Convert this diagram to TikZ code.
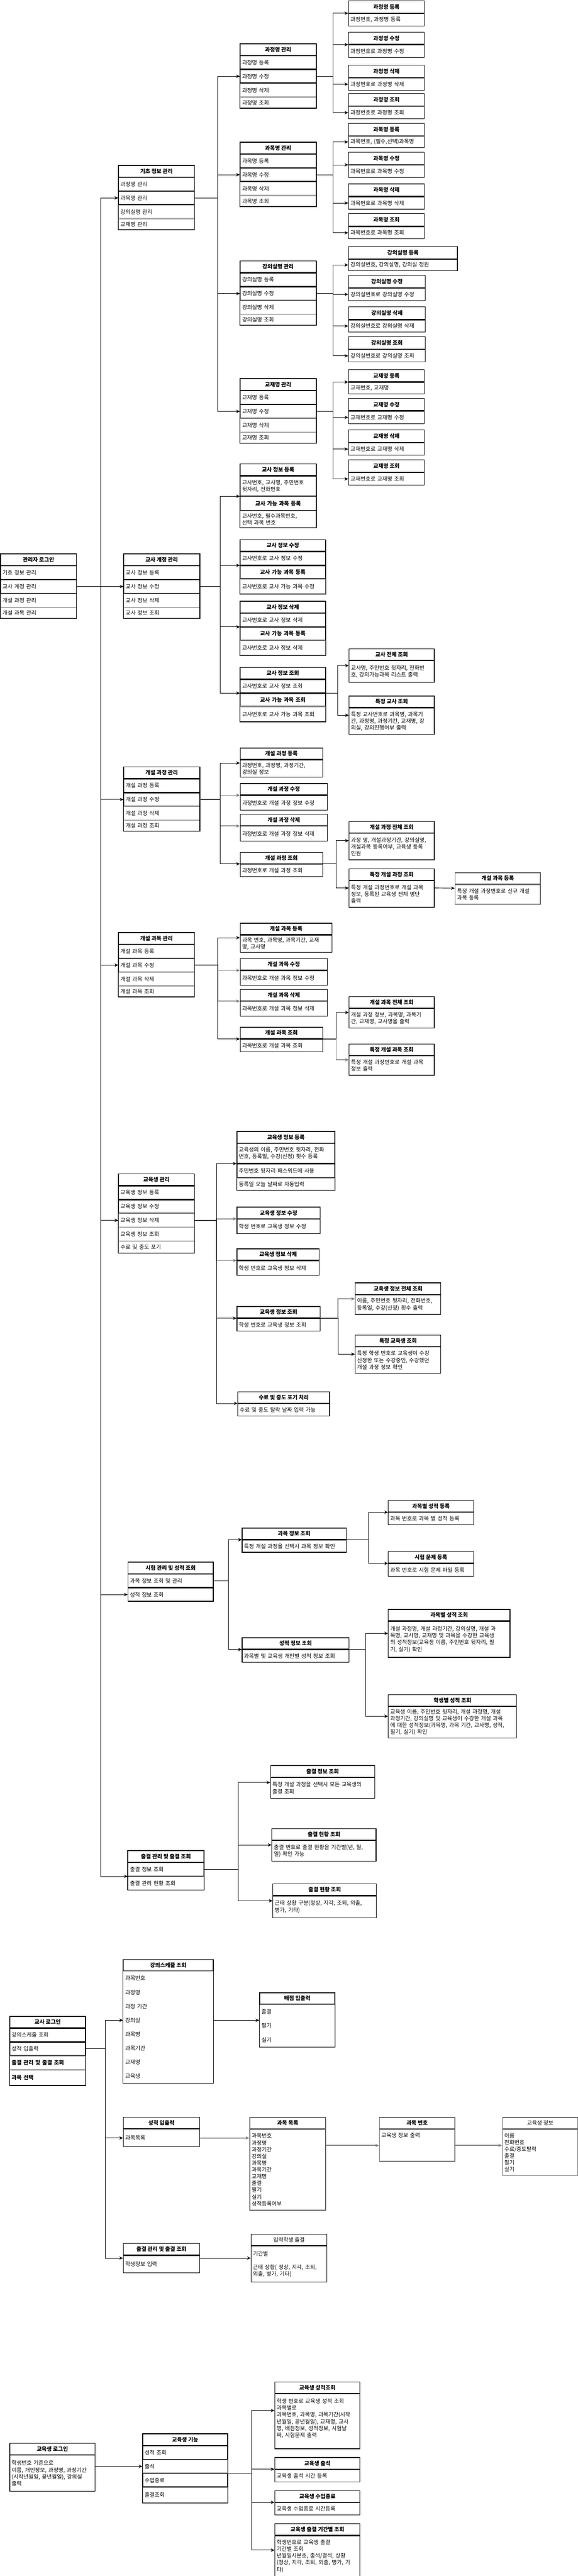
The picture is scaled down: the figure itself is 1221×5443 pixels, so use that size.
\documentclass[tikz,border=0pt]{standalone}
\usepackage{fontspec}
\setmainfont{Noto Sans CJK KR}
\usetikzlibrary{positioning,arrows.meta}
\newcommand{\dfont}{\fontsize{11.5}{14.3}\selectfont}
\tikzset{
  hdbox/.style={draw, line width=1.3pt, anchor=north west, minimum height=24pt, inner sep=0pt, font=\dfont\bfseries},
  hdnbox/.style={hdbox, font=\dfont},
  leafhd/.style={hdbox, minimum height=26pt},
  rowbox/.style={draw, line width=1.3pt, minimum height=28pt, inner xsep=4pt, inner ysep=1pt, align=left, font=\dfont},
  lrowbox/.style={rowbox, draw=black!35},
  itembox/.style={rowbox, draw=none, minimum height=28.25pt},
  subbox/.style={rowbox, align=center, font=\dfont\bfseries},
  wd/.code={\pgfmathsetmacro\rowtw{#1-8}\tikzset{minimum width=#1pt, text width=\rowtw pt}},
  gbox/.style={draw=black!60, line width=1.8pt},
  boxframe/.style={draw, line width=1.3pt},
  arr/.style={-{Stealth[length=8pt,width=7pt]}, line width=1pt},
  garr/.style={arr, draw=black!50, line width=2pt}
}
\begin{document}
\begin{tikzpicture}[x=1pt, y=-1pt]
\useasboundingbox (0,0) rectangle (1221,5443);
\fill[white] (0,0) rectangle (1221,5443);

\node[hdbox, minimum width=160pt] (al) at (0.7,1170) {관리자 로그인};
\node[rowbox, wd=160, below=0pt of al] (al1) {기초 정보 관리};
\node[rowbox, wd=160, below=0pt of al1] (al2) {교사 계정 관리};
\node[lrowbox, wd=160, below=0pt of al2] (al3) {개설 과정 관리};
\node[lrowbox, wd=160, minimum height=22pt, below=0pt of al3] (al4) {개설 과목 관리};

\node[hdbox, minimum width=160pt] (gi) at (250,349) {기초 정보 관리};
\node[rowbox, wd=160, below=0pt of gi] (gi1) {과정명 관리};
\node[rowbox, wd=160, below=0pt of gi1] (gi2) {과목명 관리};
\node[lrowbox, wd=160, below=0pt of gi2] (gi3) {강의실명 관리};
\node[lrowbox, wd=160, minimum height=22pt, below=0pt of gi3] (gi4) {교재명 관리};

\node[hdbox, minimum width=160pt] (kj) at (507,92) {과정명 관리};
\node[rowbox, wd=160, below=0pt of kj] (kj1) {과정명 등록};
\node[rowbox, wd=160, below=0pt of kj1] (kj2) {과정명 수정};
\node[lrowbox, wd=160, below=0pt of kj2] (kj3) {과정명 삭제};
\node[lrowbox, wd=160, minimum height=22pt, below=0pt of kj3] (kj4) {과정명 조회};

\node[hdbox, minimum width=160pt] (km) at (507,300) {과목명 관리};
\node[rowbox, wd=160, below=0pt of km] (km1) {과목명 등록};
\node[rowbox, wd=160, below=0pt of km1] (km2) {과목명 수정};
\node[lrowbox, wd=160, below=0pt of km2] (km3) {과목명 삭제};
\node[lrowbox, wd=160, minimum height=22pt, below=0pt of km3] (km4) {과목명 조회};

\node[hdbox, minimum width=160pt] (kr) at (507,551) {강의실명 관리};
\node[rowbox, wd=160, below=0pt of kr] (kr1) {강의실명 등록};
\node[rowbox, wd=160, below=0pt of kr1] (kr2) {강의실명 수정};
\node[lrowbox, wd=160, below=0pt of kr2] (kr3) {강의실명 삭제};
\node[lrowbox, wd=160, minimum height=22pt, below=0pt of kr3] (kr4) {강의실명 조회};

\node[hdbox, minimum width=160pt] (kb) at (507,800) {교재명 관리};
\node[rowbox, wd=160, below=0pt of kb] (kb1) {교재명 등록};
\node[rowbox, wd=160, below=0pt of kb1] (kb2) {교재명 수정};
\node[lrowbox, wd=160, below=0pt of kb2] (kb3) {교재명 삭제};
\node[lrowbox, wd=160, minimum height=22pt, below=0pt of kb3] (kb4) {교재명 조회};

\node[leafhd, minimum width=160pt] (kjA) at (736,0.7) {과정명 등록};
\node[rowbox, wd=160, minimum height=26pt, below=0pt of kjA] (kjA1) {과정번호, 과정명 등록};
\node[leafhd, minimum width=160pt] (kjB) at (736,67) {과정명 수정};
\node[rowbox, wd=160, minimum height=26pt, below=0pt of kjB] (kjB1) {과정번호로 과정명 수정};
\node[leafhd, minimum width=160pt] (kjC) at (736,137) {과정명 삭제};
\node[rowbox, wd=160, minimum height=26pt, below=0pt of kjC] (kjC1) {과정번호로 과정명 삭제};
\node[leafhd, minimum width=160pt] (kjD) at (736,197) {과정명 조회};
\node[rowbox, wd=160, minimum height=26pt, below=0pt of kjD] (kjD1) {과정번호로 과정명 조회};

\node[leafhd, minimum width=160pt] (kmA) at (736,260) {과목명 등록};
\node[rowbox, wd=160, minimum height=24pt, below=0pt of kmA] (kmA1) {과목번호, (필수,선택)과목명};
\node[leafhd, minimum width=160pt] (kmB) at (736,321) {과목명 수정};
\node[rowbox, wd=160, minimum height=26pt, below=0pt of kmB] (kmB1) {과목번호로 과목명 수정};
\node[leafhd, minimum width=160pt] (kmC) at (736,388) {과목명 삭제};
\node[rowbox, wd=160, minimum height=26pt, below=0pt of kmC] (kmC1) {과목번호로 과목명 삭제};
\node[leafhd, minimum width=160pt] (kmD) at (736,451) {과목명 조회};
\node[rowbox, wd=160, minimum height=26pt, below=0pt of kmD] (kmD1) {과목번호로 과목명 조회};

\node[leafhd, minimum width=230pt] (krA) at (736,520) {강의실명 등록};
\node[rowbox, wd=230, minimum height=24pt, below=0pt of krA] (krA1) {강의실번호, 강의실명, 강의실 정원};
\node[leafhd, minimum width=162pt] (krB) at (736,581) {강의실명 수정};
\node[rowbox, wd=162, minimum height=26pt, below=0pt of krB] (krB1) {강의실번호로 강의실명 수정};
\node[leafhd, minimum width=162pt] (krC) at (736,648) {강의실명 삭제};
\node[rowbox, wd=162, minimum height=26pt, below=0pt of krC] (krC1) {강의실번호로 강의실명 삭제};
\node[leafhd, minimum width=162pt] (krD) at (736,711) {강의실명 조회};
\node[rowbox, wd=162, minimum height=26pt, below=0pt of krD] (krD1) {강의실번호로 강의실명 조회};

\node[leafhd, minimum width=160pt] (kbA) at (736,780) {교재명 등록};
\node[rowbox, wd=160, minimum height=24pt, below=0pt of kbA] (kbA1) {교재번호, 교재명};
\node[leafhd, minimum width=160pt] (kbB) at (736,841) {교재명 수정};
\node[rowbox, wd=160, minimum height=26pt, below=0pt of kbB] (kbB1) {교재번호로 교재명 수정};
\node[leafhd, minimum width=160pt] (kbC) at (736,908) {교재명 삭제};
\node[rowbox, wd=160, minimum height=26pt, below=0pt of kbC] (kbC1) {교재번호로 교재명 삭제};
\node[leafhd, minimum width=160pt] (kbD) at (736,971) {교재명 조회};
\node[rowbox, wd=160, minimum height=26pt, below=0pt of kbD] (kbD1) {교재번호로 교재명 조회};

\node[hdbox, minimum width=160pt] (ta) at (261,1170) {교사 계정 관리};
\node[rowbox, wd=160, below=0pt of ta] (ta1) {교사 정보 등록};
\node[rowbox, wd=160, below=0pt of ta1] (ta2) {교사 정보 수정};
\node[lrowbox, wd=160, below=0pt of ta2] (ta3) {교사 정보 삭제};
\node[lrowbox, wd=160, minimum height=22pt, below=0pt of ta3] (ta4) {교사 정보 조회};

\node[hdbox, minimum width=160pt] (ti) at (507,980) {교사 정보 등록};
\node[rowbox, wd=160, minimum height=42pt, below=0pt of ti] (ti1) {교사번호, 교사명, 주민번호\\뒷자리, 전화번호};
\node[subbox, wd=160, minimum height=29pt, below=0pt of ti1] (ti2) {교사 가능 과목 등록};
\node[lrowbox, wd=160, minimum height=35pt, below=0pt of ti2] (ti3) {교사번호, 필수과목번호,\\선택 과목 번호};

\node[hdbox, minimum width=180pt] (tu) at (507,1140) {교사 정보 수정};
\node[rowbox, wd=180, below=0pt of tu] (tu1) {교사번호로 교사 정보 수정};
\node[subbox, wd=180, minimum height=27pt, below=0pt of tu1] (tu2) {교사 가능 과목 등록};
\node[lrowbox, wd=180, minimum height=31pt, below=0pt of tu2] (tu3) {교사번호로 교사 가능 과목 수정};

\node[hdbox, minimum width=180pt] (td) at (507,1270) {교사 정보 삭제};
\node[rowbox, wd=180, below=0pt of td] (td1) {교사번호로 교사 정보 삭제};
\node[subbox, wd=180, minimum height=27pt, below=0pt of td1] (td2) {교사 가능 과목 등록};
\node[lrowbox, wd=180, minimum height=31pt, below=0pt of td2] (td3) {교사번호로 교사 정보 삭제};

\node[hdbox, minimum width=180pt] (tq) at (507,1410) {교사 정보 조회};
\node[rowbox, wd=180, below=0pt of tq] (tq1) {교사번호로 교사 정보 조회};
\node[subbox, wd=180, minimum height=27pt, below=0pt of tq1] (tq2) {교사 가능 과목 조회};
\node[lrowbox, wd=180, minimum height=31pt, below=0pt of tq2] (tq3) {교사번호로 교사 가능 과목 조회};

\node[hdbox, minimum width=180pt] (tw) at (737,1370) {교사 전체 조회};
\node[rowbox, wd=180, minimum height=46pt, below=0pt of tw] (tw1) {교사명, 주민번호 뒷자리, 전화번\\호, 강의가능과목 리스트 출력};
\node[hdbox, minimum width=180pt] (ts) at (737,1470) {특정 교사 조회};
\node[rowbox, wd=180, minimum height=56pt, below=0pt of ts] (ts1) {특정 교사번호로 과목명, 과목기\\간, 과정명, 과정기간, 교재명, 강\\의실, 강의진행여부 출력};

\node[hdbox, minimum width=160pt] (pc) at (261,1620) {개설 과정 관리};
\node[rowbox, wd=160, below=0pt of pc] (pc1) {개설 과정 등록};
\node[rowbox, wd=160, below=0pt of pc1] (pc2) {개설 과정 수정};
\node[lrowbox, wd=160, below=0pt of pc2] (pc3) {개설 과정 삭제};
\node[lrowbox, wd=160, minimum height=22pt, below=0pt of pc3] (pc4) {개설 과정 조회};

\node[hdbox, minimum width=174pt] (pa) at (507,1580) {개설 과정 등록};
\node[rowbox, wd=174, minimum height=36pt, below=0pt of pa] (pa1) {과정번호, 과정명, 과정기간,\\강의실 정보};
\node[hdbox, minimum width=184pt] (pb) at (507,1655) {개설 과정 수정};
\node[rowbox, wd=184, minimum height=31pt, below=0pt of pb] (pb1) {과정번호로 개설 과정 정보 수정};
\node[hdbox, minimum width=184pt] (pd) at (507,1720) {개설 과정 삭제};
\node[rowbox, wd=184, minimum height=31pt, below=0pt of pd] (pd1) {과정번호로 개설 과정 정보 삭제};
\node[hdbox, minimum width=174pt] (pq) at (507,1800) {개설 과정 조회};
\node[rowbox, wd=174, minimum height=26pt, below=0pt of pq] (pq1) {과정번호로 개설 과정 조회};

\node[hdbox, minimum width=180pt] (pw) at (737,1735) {개설 과정 전체 조회};
\node[rowbox, wd=180, minimum height=56pt, below=0pt of pw] (pw1) {과정 명, 개설과정기간, 강의실명,\\개설과목 등록여부, 교육생 등록\\인원};
\node[hdbox, minimum width=180pt] (ps) at (737,1835) {특정 개설 과정 조회};
\node[rowbox, wd=180, minimum height=56pt, below=0pt of ps] (ps1) {특정 개설 과정번호로 개설 과목\\정보, 등록된 교육생 전체 명단\\출력};
\node[hdbox, gbox, minimum width=180pt] (pn) at (961,1843) {개설 과목 등록};
\node[rowbox, gbox, wd=180, minimum height=41pt, below=0pt of pn] (pn1) {특정 개설 과정번호로 신규 개설\\과목 등록};

\node[hdbox, minimum width=160pt] (sc) at (250,1970) {개설 과목 관리};
\node[rowbox, wd=160, below=0pt of sc] (sc1) {개설 과목 등록};
\node[rowbox, wd=160, below=0pt of sc1] (sc2) {개설 과목 수정};
\node[lrowbox, wd=160, below=0pt of sc2] (sc3) {개설 과목 삭제};
\node[lrowbox, wd=160, minimum height=22pt, below=0pt of sc3] (sc4) {개설 과목 조회};

\node[hdbox, minimum width=194pt] (sa) at (507,1950) {개설 과목 등록};
\node[rowbox, wd=194, minimum height=36pt, below=0pt of sa] (sa1) {과목 번호, 과목명, 과목기간, 교재\\명, 교사명};
\node[hdbox, minimum width=184pt] (sb) at (507,2025) {개설 과목 수정};
\node[rowbox, wd=184, minimum height=31pt, below=0pt of sb] (sb1) {과목번호로 개설 과목 정보 수정};
\node[hdbox, minimum width=184pt] (sd) at (507,2090) {개설 과목 삭제};
\node[rowbox, wd=184, minimum height=31pt, below=0pt of sd] (sd1) {과목번호로 개설 과목 정보 삭제};
\node[hdbox, minimum width=174pt] (sq) at (507,2170) {개설 과목 조회};
\node[rowbox, wd=174, minimum height=26pt, below=0pt of sq] (sq1) {과목번호로 개설 과목 조회};

\node[hdbox, minimum width=180pt] (sw) at (737,2105) {개설 과목 전체 조회};
\node[rowbox, wd=180, minimum height=41pt, below=0pt of sw] (sw1) {개설 과정 정보, 과목명, 과목기\\간, 교재명, 교사명을 출력};
\node[hdbox, minimum width=180pt] (ss) at (737,2205) {특정 개설 과목 조회};
\node[rowbox, wd=180, minimum height=41pt, below=0pt of ss] (ss1) {특정 개설 과정번호로 개설 과목\\정보 출력};

\node[hdbox, minimum width=160pt] (sm) at (250,2480) {교육생 관리};
\node[rowbox, wd=160, below=0pt of sm] (sm1) {교육생 정보 등록};
\node[rowbox, wd=160, below=0pt of sm1] (sm2) {교육생 정보 수정};
\node[lrowbox, wd=160, below=0pt of sm2] (sm3) {교육생 정보 삭제};
\node[lrowbox, wd=160, below=0pt of sm3] (sm4) {교육생 정보 조회};
\node[lrowbox, wd=160, minimum height=24pt, below=0pt of sm4] (sm5) {수료 및 중도 포기};

\node[hdbox, minimum width=207pt] (ea) at (500,2390) {교육생 정보 등록};
\node[rowbox, wd=207, minimum height=42pt, below=0pt of ea] (ea1) {교육생의 이름, 주민번호 뒷자리, 전화\\번호, 등록일, 수강(신청) 횟수 등록};
\node[rowbox, wd=207, minimum height=29pt, below=0pt of ea1] (ea2) {주민번호 뒷자리 패스워드에 사용};
\node[lrowbox, wd=207, minimum height=25pt, below=0pt of ea2] (ea3) {등록일 오늘 날짜로 자동입력};
\node[hdbox, minimum width=176pt] (eb) at (500,2550) {교육생 정보 수정};
\node[rowbox, wd=176, minimum height=31pt, below=0pt of eb] (eb1) {학생 번호로 교육생 정보 수정};
\node[hdbox, minimum width=174pt] (ed) at (500,2638) {교육생 정보 삭제};
\node[rowbox, wd=174, minimum height=31pt, below=0pt of ed] (ed1) {학생 번호로 교육생 정보 삭제};
\node[hdbox, minimum width=176pt] (eq) at (500,2760) {교육생 정보 조회};
\node[rowbox, wd=176, minimum height=26pt, below=0pt of eq] (eq1) {학생 번호로 교육생 정보 조회};
\node[hdbox, minimum width=194pt] (ef) at (502,2940) {수료 및 중도 포기 처리};
\node[rowbox, wd=194, minimum height=26pt, below=0pt of ef] (ef1) {수료 및 중도 탈락 날짜 입력 가능};

\node[hdbox, minimum width=181pt] (ew) at (750,2710) {교육생 정보 전체 조회};
\node[rowbox, wd=181, minimum height=41pt, below=0pt of ew] (ew1) {이름, 주민번호 뒷자리, 전화번호,\\등록일, 수강(신청) 횟수 출력};
\node[hdbox, minimum width=181pt] (es) at (750,2820) {특정 교육생 조회};
\node[rowbox, wd=181, minimum height=56pt, below=0pt of es] (es1) {특정 학생 번호로 교육생이 수강\\신청한 또는 수강중인, 수강했던\\개설 과정 정보 확인};

\node[hdbox, minimum width=180pt] (ex) at (270,3300) {시험 관리 및 성적 조회};
\node[rowbox, wd=180, below=0pt of ex] (ex1) {과목 정보 조회 및 관리};
\node[rowbox, wd=180, below=0pt of ex1] (ex2) {성적 정보 조회};

\node[hdbox, minimum width=220pt] (xa) at (511,3228) {과목 정보 조회};
\node[rowbox, wd=220, minimum height=26pt, below=0pt of xa] (xa1) {특정 개설 과정을 선택시 과목 정보 확인};
\node[hdbox, minimum width=180pt] (xr) at (820,3170) {과목별 성적 등록};
\node[rowbox, wd=180, minimum height=26pt, below=0pt of xr] (xr1) {과목 번호로 과목 별 성적 등록};
\node[hdbox, minimum width=180pt] (xp) at (820,3278) {시험 문제 등록};
\node[rowbox, wd=180, minimum height=27pt, below=0pt of xp] (xp1) {과목 번호로 시험 문제 파일 등록};
\node[hdbox, minimum width=226pt] (xg) at (511,3460) {성적 정보 조회};
\node[rowbox, wd=226, minimum height=26pt, below=0pt of xg] (xg1) {과목별 및 교육생 개인별 성적 정보 조회};
\node[hdbox, minimum width=257pt] (xs) at (820,3400) {과목별 성적 조회};
\node[rowbox, wd=257, minimum height=76pt, below=0pt of xs] (xs1) {개설 과정명, 개설 과정기간, 강의실명, 개설 과\\목명, 교사명, 교재명 및 과목을 수강한 교육생\\의 성적정보(교육생 이름, 주민번호 뒷자리, 필\\기, 실기) 확인};
\node[hdbox, minimum width=271pt] (xh) at (820,3580) {학생별 성적 조회};
\node[rowbox, wd=271, minimum height=66pt, below=0pt of xh] (xh1) {교육생 이름, 주민번호 뒷자리, 개설 과정명, 개설\\과정기간, 강의실명 및 교육생이 수강한 개설 과목\\에 대한 성적정보(과목명, 과목 기간, 교사명, 성적,\\필기, 실기) 확인};

\node[hdbox, minimum width=160pt] (at) at (270,3910) {출결 관리 및 출결 조회};
\node[rowbox, wd=160, below=0pt of at] (at1) {출결 정보 조회};
\node[lrowbox, wd=160, below=0pt of at1] (at2) {출결 관리 현황 조회};

\node[hdbox, minimum width=220pt] (aa) at (571,3730) {출결 정보 조회};
\node[rowbox, wd=220, minimum height=44pt, below=0pt of aa] (aa1) {특정 개설 과정을 선택시 모든 교육생의\\출결 조회};
\node[hdbox, minimum width=220pt] (ab) at (574,3863) {출결 현황 조회};
\node[rowbox, wd=220, minimum height=44pt, below=0pt of ab] (ab1) {출결 번호로 출결 현황을 기간별(년, 월,\\일) 확인 가능};
\node[hdbox, minimum width=219pt] (ac) at (576,3980) {출결 현황 조회};
\node[rowbox, wd=219, minimum height=46pt, below=0pt of ac] (ac1) {근태 상황 구분(정상, 지각, 조퇴, 외출,\\병가, 기타)};

\node[hdbox, minimum width=160pt] (tl) at (20,4260) {교사 로그인};
\node[rowbox, wd=160, below=0pt of tl] (tl1) {강의스케줄 조회};
\node[rowbox, wd=160, below=0pt of tl1] (tl2) {성적 입출력};
\node[lrowbox, wd=160, font=\dfont\bfseries, below=0pt of tl2] (tl3) {출결 관리 및 출결 조회};
\node[lrowbox, wd=160, font=\dfont\bfseries, minimum height=32pt, below=0pt of tl3] (tl4) {과목 선택};

\node[hdbox, minimum width=190pt] (sch) at (260,4140) {강의스케줄 조회};
\node[itembox, wd=190, below=0pt of sch] (sch1) {과목번호};
\node[itembox, wd=190, below=0pt of sch1] (sch2) {과정명};
\node[itembox, wd=190, below=0pt of sch2] (sch3) {과정 기간};
\node[itembox, wd=190, below=0pt of sch3] (sch4) {강의실};
\node[itembox, wd=190, below=0pt of sch4] (sch5) {과목명};
\node[itembox, wd=190, below=0pt of sch5] (sch6) {과목기간};
\node[itembox, wd=190, below=0pt of sch6] (sch7) {교재명};
\node[itembox, wd=190, below=0pt of sch7] (sch8) {교육생};

\node[hdbox, minimum width=159pt] (bp) at (548,4210) {배점 입출력};
\node[itembox, wd=159, minimum height=28.7pt, below=0pt of bp] (bp1) {출결};
\node[itembox, wd=159, minimum height=28.7pt, below=0pt of bp1] (bp2) {필기};
\node[itembox, wd=159, minimum height=28.7pt, below=0pt of bp2] (bp3) {실기};

\node[hdbox, minimum width=161pt] (sg) at (260,4473) {성적 입출력};
\node[rowbox, wd=161, minimum height=37pt, below=0pt of sg] (sg1) {과목목록};
\node[hdbox, gbox, minimum width=160pt] (sl) at (527,4473) {과목 목록};
\node[rowbox, gbox, wd=160, minimum height=170pt, below=0pt of sl] (sl1) {과목번호\\과정명\\과정기간\\강의실\\과목명\\과목기간\\교재명\\출결\\필기\\실기\\성적등록여부};
\node[hdbox, gbox, minimum width=159pt] (sn) at (801,4473) {과목 번호};
\node[rowbox, gbox, wd=159, minimum height=67pt, below=0pt of sn] (sn1) {교육생 정보 출력\\~\\~\\~};
\node[hdnbox, gbox, minimum width=159pt] (si) at (1061,4473) {교육생 정보};
\node[rowbox, gbox, wd=159, minimum height=97pt, below=0pt of si] (si1) {이름\\전화번호\\수료/중도탈락\\출결\\필기\\실기};

\node[hdbox, minimum width=161pt] (tc) at (260,4740) {출결 관리 및 출결 조회};
\node[rowbox, wd=161, minimum height=36pt, below=0pt of tc] (tc1) {학생정보 입력};
\node[hdnbox, minimum width=160pt] (ia) at (530,4720) {입력학생 출결};
\node[rowbox, wd=160, minimum height=76pt, below=0pt of ia] (ia1) {기간별\\~\\근태 상황( 정상, 지각, 조퇴,\\외출, 병가, 기타)};

\node[hdbox, minimum width=180pt] (stl) at (20,5162) {교육생 로그인};
\node[rowbox, wd=180, minimum height=76pt, below=0pt of stl] (stl1) {학생번호 기준으로\\이름, 개인정보, 과정명, 과정기간\\(시작년월일, 끝년월일), 강의실\\출력};

\node[hdbox, minimum width=179pt] (sf) at (301,5142) {교육생 기능};
\node[rowbox, wd=179, below=0pt of sf] (sf1) {성적 조회};
\node[lrowbox, wd=179, below=0pt of sf1] (sf2) {출석};
\node[rowbox, wd=179, below=0pt of sf2] (sf3) {수업종료};
\node[lrowbox, wd=179, minimum height=32pt, below=0pt of sf3] (sf4) {출결조회};

\node[hdbox, minimum width=180pt] (ga) at (580,5032) {교육생 성적조회};
\node[rowbox, wd=180, minimum height=116pt, below=0pt of ga] (ga1) {학생 번호로 교육생 성적 조회\\과목별로\\과목번호, 과목명, 과목기간(시작\\년월일, 끝년월일), 교재명, 교사\\명, 배점정보, 성적정보, 시험날\\짜, 시험문제 출력\\~};
\node[hdbox, minimum width=180pt] (gb) at (580,5192) {교육생 출석};
\node[rowbox, wd=180, minimum height=26pt, below=0pt of gb] (gb1) {교육생 출석 시간 등록};
\node[hdbox, minimum width=180pt] (gc) at (580,5262) {교육생 수업종료};
\node[rowbox, wd=180, minimum height=26pt, below=0pt of gc] (gc1) {교육생 수업종료 시간등록};
\node[hdbox, minimum width=180pt] (gd) at (580,5332) {교육생 출결 기간별 조회};
\node[rowbox, wd=180, minimum height=86pt, below=0pt of gd] (gd1) {학생번호로 교육생 출결\\기간별 조회\\년월일시분초, 출석/결석, 상황\\(정상, 지각, 조퇴, 외출, 병가, 기\\타)};

\foreach \a/\b in {al/al4, gi/gi4, kj/kj4, km/km4, kr/kr4, kb/kb4, ta/ta4, ti/ti3, tu/tu3, td/td3, tq/tq3, pc/pc4, sc/sc4, sm/sm5, ea/ea3, at/at2, tl/tl4, sch/sch8, bp/bp3, sf/sf4}
  \draw[boxframe] (\a.north west) rectangle (\b.south east);

\draw[arr] (al2.east) -- ++(51,0) |- (gi2.west);
\draw[arr] (al2.east) -- ++(51,0) |- (ta2.west);
\draw[arr] (al2.east) -- ++(51,0) |- (pc2.west);
\draw[arr] (al2.east) -- ++(51,0) |- (sc2.west);
\draw[arr] (al2.east) -- ++(51,0) |- (sm3.west);
\draw[arr] (al2.east) -- ++(51,0) |- (ex2.west);
\draw[arr] (al2.east) -- ++(51,0) |- (at1.south west);

\draw[arr] (gi2.east) -- ++(49,0) |- (kj2.west);
\draw[arr] (gi2.east) -- ++(49,0) |- (km2.west);
\draw[arr] (gi2.east) -- ++(49,0) |- (kr2.west);
\draw[arr] (gi2.east) -- ++(49,0) |- (kb2.west);

\draw[arr] (kj2.east) -- ++(35,0) |- (kjA.south west);
\draw[arr] (kj2.east) -- ++(35,0) |- (kjB.south west);
\draw[arr] (kj2.east) -- ++(35,0) |- (kjC1.west);
\draw[arr] (kj2.east) -- ++(35,0) |- (kjD1.west);
\draw[arr] (km2.east) -- ++(35,0) |- (kmA1.west);
\draw[arr] (km2.east) -- ++(35,0) |- (kmB.south west);
\draw[arr] (km2.east) -- ++(35,0) |- (kmC1.west);
\draw[arr] (km2.east) -- ++(35,0) |- (kmD1.west);
\draw[arr] (kr2.east) -- ++(35,0) |- (krA1.west);
\draw[arr] (kr2.east) -- ++(35,0) |- (krB1.west);
\draw[arr] (kr2.east) -- ++(35,0) |- (krC1.west);
\draw[arr] (kr2.east) -- ++(35,0) |- (krD1.west);
\draw[arr] (kb2.east) -- ++(35,0) |- (kbA.south west);
\draw[arr] (kb2.east) -- ++(35,0) |- (kbB1.west);
\draw[arr] (kb2.east) -- ++(35,0) |- (kbC1.west);
\draw[arr] (kb2.east) -- ++(35,0) |- (kbD1.west);

\draw[arr] (ta2.east) -- ++(43,0) |- (ti2.north west);
\draw[arr] (ta2.east) -- ++(43,0) |- (tu2.north west);
\draw[arr] (ta2.east) -- ++(43,0) |- (td2.north west);
\draw[arr] (ta2.east) -- ++(43,0) |- (tq2.north west);
\draw[arr] (tq2.north east) -- ++(25,0) |- ([yshift=-11pt]tw.south west);
\draw[arr] (tq2.north east) -- ++(25,0) |- ([yshift=-16pt]ts.south west);

\draw[garr] (pc2.east) -- ++(43,0) |- (pb.south west);
\draw[garr] (pc2.east) -- ++(43,0) |- (pd.south west);
\draw[arr] (pc2.east) -- ++(43,0) |- ([yshift=-7pt]pa.south west);
\draw[arr] (pc2.east) -- ++(43,0) |- (pq.south west);
\draw[arr] (pq.south east) -- ++(28,0) |- ([yshift=-16pt]pw.south west);
\draw[arr] (pq.south east) -- ++(28,0) |- ([yshift=-16pt]ps.south west);
\draw[arr] ([yshift=-16pt]ps.south east) -- ([yshift=-8pt]pn.south west);

\draw[garr] (sc2.east) -- ++(49,0) |- (sb.south west);
\draw[garr] (sc2.east) -- ++(49,0) |- (sd.south west);
\draw[arr] (sc2.east) -- ++(49,0) |- ([yshift=-6pt]sa.south west);
\draw[arr] (sc2.east) -- ++(49,0) |- (sq.south west);
\draw[garr] (sq.south east) -- ++(28,0) |- ([yshift=-9pt]ss.south west);
\draw[arr] (sq.south east) -- ++(28,0) |- ([yshift=-9pt]sw.south west);

\draw[garr] (sm3.east) -- ++(46,0) |- (eb.south west);
\draw[garr] (sm3.east) -- ++(46,0) |- (ed.south west);
\draw[arr] (sm3.east) -- ++(46,0) |- (ea2.north west);
\draw[arr] (sm3.east) -- ++(46,0) |- (eq.south west);
\draw[arr] (sm3.east) -- ++(46,0) |- (ef.south west);
\draw[garr] (eq.south east) -- ++(37,0) |- ([yshift=-9pt]ew.south west);
\draw[arr] (eq.south east) -- ++(37,0) |- ([yshift=-16pt]es.south west);

\draw[arr] (ex1.east) -- ++(31,0) |- (xa.south west);
\draw[arr] (ex1.east) -- ++(31,0) |- (xg.south west);
\draw[arr] (xa.south east) -- ++(46,0) |- (xr.south west);
\draw[arr] (xa.south east) -- ++(46,0) |- (xp.south west);
\draw[arr] (xg.south east) -- ++(34,0) |- ([yshift=-26pt]xs.south west);
\draw[arr] (xg.south east) -- ++(34,0) |- ([yshift=-21pt]xh.south west);

\draw[arr] (at1.east) -- ++(72,0) |- ([yshift=-11pt]aa.south west);
\draw[arr] (at1.east) -- ++(72,0) |- ([yshift=-10pt]ab.south west);
\draw[arr] (at1.east) -- ++(72,0) |- ([yshift=-11pt]ac.south west);

\draw[arr] (tl2.east) -- ++(41,0) |- (sch4.west);
\draw[arr] (tl2.east) -- ++(41,0) |- (sg1.west);
\draw[arr] (tl2.east) -- ++(41,0) |- ([yshift=-6pt]tc.south west);
\draw[arr] (sch4.east) -- (sch4.east -| bp.west);
\draw[garr] (sg1.east) -- (sg1.east -| sl.west);
\draw[garr] (sl1.east |- sn1.west) -- (sn1.west);
\draw[garr] (sn1.east) -- (sn1.east -| si.west);
\draw[arr] ([yshift=-6pt]tc.south east) -- ([yshift=-26pt]ia.south west);

\draw[arr] (sf2.west -| stl1.east) -- (sf2.west);
\draw[arr] (sf2.south east) -- ++(50,0) |- ([yshift=-36pt]ga.south west);
\draw[arr] (sf2.south east) -- ++(50,0) |- (gb.south west);
\draw[arr] (sf2.south east) -- ++(50,0) |- (gc.south west);
\draw[arr] (sf2.south east) -- ++(50,0) |- ([yshift=-31pt]gd.south west);
\end{tikzpicture}
\end{document}
